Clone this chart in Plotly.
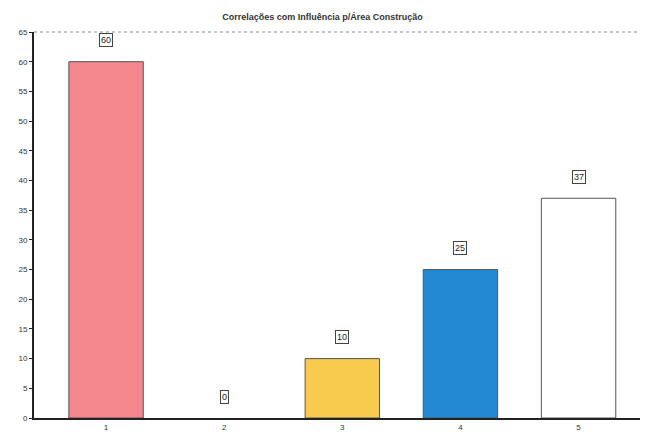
import plotly.graph_objects as go

categories = ["1", "2", "3", "4", "5"]
values = [60, 0, 10, 25, 37]
colors = ["#F4878E", "#FFFFFF", "#F8CB4E", "#2288D2", "#FFFFFF"]
title = "Correlações com Influência p/Área Construção"
y_ticks = list(range(0, 70, 5))

xpos = [1, 2, 3, 4, 5]

fig = go.Figure()
fig.add_trace(go.Bar(
    x=xpos, y=values, width=0.63,
    marker=dict(color=colors,
                line=dict(color="#555555", width=[0 if v == 0 else 1 for v in values])),
    showlegend=False, hoverinfo="skip",
))

for x, v in zip(xpos, values):
    fig.add_annotation(
        x=x, y=v + 3.6, text=str(v), showarrow=False,
        font=dict(family="Arial, Liberation Sans", size=9, color="#222222"),
        bordercolor="#444444", borderwidth=1, borderpad=1,
        bgcolor="white",
    )

fig.update_layout(
    width=645, height=438,
    margin=dict(l=34, r=5, t=32, b=20),
    paper_bgcolor="white", plot_bgcolor="white",
    title=dict(text="<b>" + title + "</b>", x=0.5, xanchor="center", y=0.962, yanchor="middle",
               font=dict(family="Arial, Liberation Sans", size=9, color="#333333")),
    xaxis=dict(range=[0.39, 5.52], tickvals=xpos, ticktext=categories,
               showgrid=False, zeroline=False, showline=True, linecolor="#222222",
               linewidth=2, ticks="", tickfont=dict(family="Arial, Liberation Sans", size=8, color="#333333")),
    yaxis=dict(range=[0, 65], tickvals=y_ticks, showgrid=False, zeroline=False,
               showline=True, linecolor="#222222", linewidth=2, ticks="outside",
               ticklen=3, tickcolor="#222222",
               tickfont=dict(family="Arial, Liberation Sans", size=8, color="#333333")),
    shapes=[dict(type="line", xref="paper", yref="paper", x0=0, x1=1, y0=1, y1=1,
                 line=dict(color="#7f8fa6", width=1, dash="dot"))],
)

fig.write_html("out.html", config={"displayModeBar": False},
               post_script="document.body.style.margin='0';")
